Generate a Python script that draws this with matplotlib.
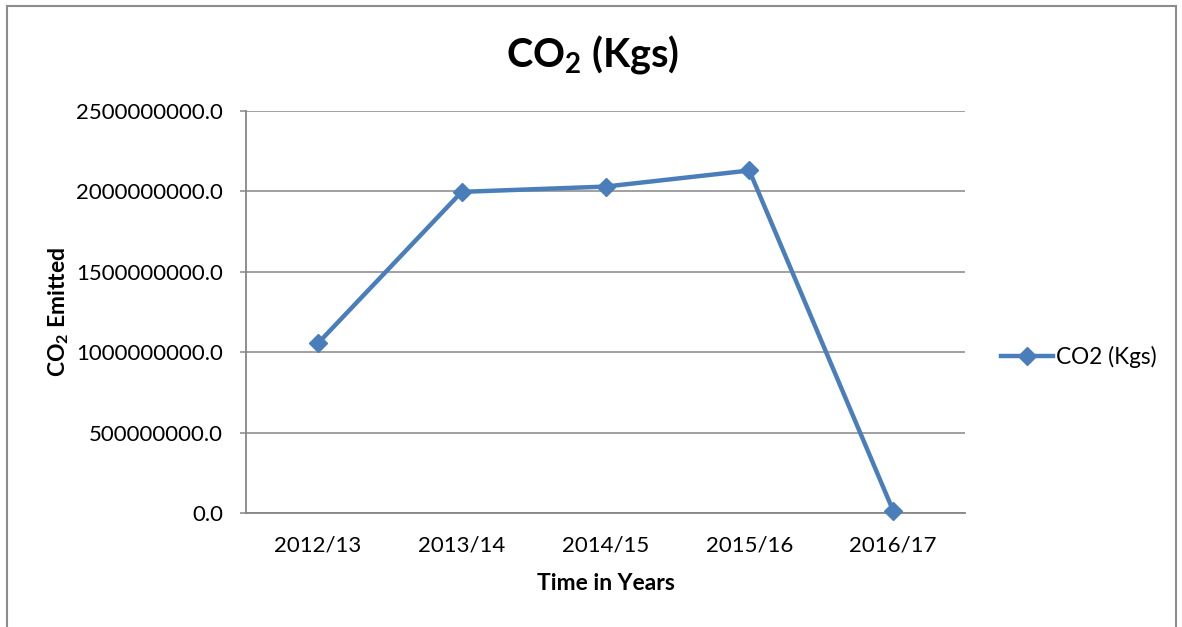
import matplotlib
matplotlib.use("Agg")
import matplotlib.pyplot as plt
from matplotlib.patches import Rectangle

# data
years = ["2012/13", "2013/14", "2014/15", "2015/16", "2016/17"]
co2_kgs = [1055000000, 1997000000, 2030000000, 2130000000, 15000000]
y_ticks = [0, 500000000, 1000000000, 1500000000, 2000000000, 2500000000]

plt.rcParams["font.family"] = ["Lato", "DejaVu Sans"]
plt.rcParams["mathtext.fontset"] = "custom"
plt.rcParams["mathtext.rm"] = "Lato"
plt.rcParams["mathtext.bf"] = "Lato:bold"

W, H = 1182, 627
fig = plt.figure(figsize=(W / 100, H / 100), dpi=100)
ax = fig.add_axes([246 / W, 1 - 513 / H, (965 - 246) / W, (513 - 111) / H])

grey = "#868686"
blue = "#4A7EBB"

x = list(range(len(years)))
ax.plot(x, co2_kgs, color=blue, lw=3.2, marker="D", ms=9.5, label="CO2 (Kgs)",
        solid_joinstyle="round", clip_on=False, zorder=3)

ax.set_xlim(-0.5, len(years) - 0.5)
ax.set_ylim(0, 2500000000)
ax.set_yticks(y_ticks)
ax.set_yticklabels([f"{v:.1f}" for v in y_ticks])
ax.set_xticks(x)
ax.set_xticklabels(years)
ax.grid(axis="y", color=grey, lw=1.1)
ax.set_axisbelow(True)

for s in ["top", "right"]:
    ax.spines[s].set_visible(False)
for s in ["left", "bottom"]:
    ax.spines[s].set_color(grey)
    ax.spines[s].set_linewidth(1.3)

ax.tick_params(axis="y", length=4.5, width=1.1, color=grey, pad=12, labelsize=16)
ax.tick_params(axis="x", length=0, pad=16, labelsize=16)

ax.set_xlabel("Time in Years", fontsize=16.5, fontweight="bold", labelpad=13)
ax.set_ylabel(r"CO$_\mathbf{2}$ Emitted", fontsize=16.5, fontweight="bold", labelpad=4)

fig.text(593 / W, 1 - 67 / H, r"CO$_\mathbf{2}$ (Kgs)", fontsize=28.5, fontweight="bold",
         ha="center", va="baseline")

ax.legend(loc="center left", bbox_to_anchor=(1001 / W, 1 - 357 / H), bbox_transform=fig.transFigure,
          frameon=False, fontsize=16.3, handlelength=2.3, handletextpad=0.15,
          borderpad=0, borderaxespad=0)

# outer chart border (bottom edge cropped in the reference)
fig.patches.append(Rectangle((7 / W, -0.05), (1176 - 7) / W, 1.05 - 6 / H,
                             transform=fig.transFigure, fill=False, ec="#8c8c8c", lw=1.5))

fig.savefig("out.png", dpi=100)
